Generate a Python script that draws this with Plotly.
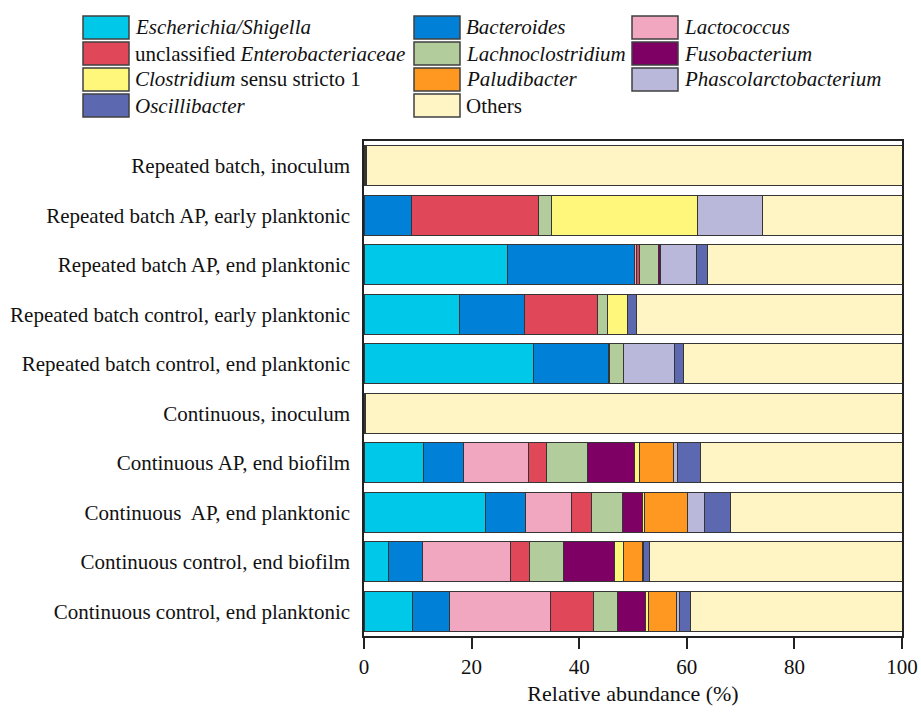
import plotly.graph_objects as go

# Samples, listed top to bottom
samples = [
    "Repeated batch, inoculum",
    "Repeated batch AP, early planktonic",
    "Repeated batch AP, end planktonic",
    "Repeated batch control, early planktonic",
    "Repeated batch control, end planktonic",
    "Continuous, inoculum",
    "Continuous AP, end biofilm",
    "Continuous\u00a0 AP, end planktonic",
    "Continuous control, end biofilm",
    "Continuous control, end planktonic",
]

# Relative abundance (%) of each genus per sample
escherichia = [0.1, 0.0, 26.6, 17.7, 31.5, 0.0, 11.1, 22.5, 4.5, 9.0]
bacteroides = [0.1, 8.9, 23.7, 12.2, 13.9, 0.1, 7.4, 7.5, 6.4, 6.8]
lactococcus = [0.0, 0.0, 0.3, 0.0, 0.0, 0.0, 12.0, 8.6, 16.3, 18.8]
unclassified_entero = [0.1, 23.6, 0.6, 13.5, 0.3, 0.0, 3.4, 3.7, 3.6, 8.1]
lachnoclostridium = [0.1, 2.4, 3.6, 1.9, 2.6, 0.1, 7.7, 5.8, 6.3, 4.4]
fusobacterium = [0.0, 0.0, 0.3, 0.0, 0.0, 0.0, 8.7, 3.6, 9.4, 5.2]
clostridium = [0.0, 27.1, 0.0, 3.6, 0.0, 0.0, 1.0, 0.4, 1.7, 0.5]
paludibacter = [0.0, 0.0, 0.0, 0.0, 0.0, 0.0, 6.2, 8.1, 3.5, 5.3]
phascolarcto = [0.0, 12.0, 6.7, 0.0, 9.5, 0.0, 0.7, 3.0, 0.3, 0.5]
oscillibacter = [0.0, 0.0, 2.0, 1.8, 1.5, 0.0, 4.3, 5.0, 1.1, 2.1]
others = [99.6, 26.0, 36.2, 49.3, 40.7, 99.8, 37.5, 31.8, 46.9, 39.3]

labels = [
    "<i>Escherichia/Shigella</i>",
    "<i>Bacteroides</i>",
    "<i>Lactococcus</i>",
    "unclassified <i>Enterobacteriaceae</i>",
    "<i>Lachnoclostridium</i>",
    "<i>Fusobacterium</i>",
    "<i>Clostridium</i> sensu stricto 1",
    "<i>Paludibacter</i>",
    "<i>Phascolarctobacterium</i>",
    "<i>Oscillibacter</i>",
    "Others",
]
series = [escherichia, bacteroides, lactococcus, unclassified_entero,
          lachnoclostridium, fusobacterium, clostridium, paludibacter,
          phascolarcto, oscillibacter, others]
colors = ["#00C8E8", "#0080D6", "#F2A7C0", "#E0485A", "#B2CD9B", "#7F0064",
          "#FFF67C", "#FF9820", "#B9B8DA", "#5C68B0", "#FFF5C4"]

FONT = "Liberation Serif"

fig = go.Figure()
for lab, vals, col in zip(labels, series, colors):
    fig.add_trace(go.Bar(
        y=samples, x=vals, orientation="h", name=lab,
        marker=dict(color=col, line=dict(color="#353535", width=1)),
        showlegend=False,
    ))

# Plot-area geometry in pixels (used for the hand-drawn legend)
W, H = 921, 716
L, R, T, B = 364, 19, 141, 80
PW, PH = W - L - R, H - T - B


def px_x(px):
    return (px - L) / PW


def px_y(py):
    return (H - B - py) / PH


shapes = []
annotations = []
col_x = [83, 414, 632]
row_y = [16, 42, 68, 94]
sw_w, sw_h = 46, 23
for i, (lab, col) in enumerate(zip(labels, colors)):
    r, c = divmod(i, 3)
    x0, y0 = col_x[c], row_y[r]
    shapes.append(dict(
        type="rect", xref="paper", yref="paper",
        x0=px_x(x0), x1=px_x(x0 + sw_w), y0=px_y(y0 + sw_h), y1=px_y(y0),
        fillcolor=col, line=dict(color="#404040", width=1.5), layer="above",
    ))
    annotations.append(dict(
        xref="paper", yref="paper", x=px_x(x0 + sw_w + 4), y=px_y(y0 + sw_h / 2),
        text=lab, showarrow=False, xanchor="left", yanchor="middle",
        font=dict(family=FONT, size=21, color="#111"),
    ))

fig.update_layout(
    template="none",
    barmode="stack",
    bargap=0.19,
    width=W, height=H,
    margin=dict(l=L, r=R, t=T, b=B, autoexpand=False),
    plot_bgcolor="white",
    paper_bgcolor="white",
    font=dict(family=FONT, size=21, color="#111"),
    shapes=shapes,
    annotations=annotations,
    xaxis=dict(
        range=[0, 100], tickvals=[0, 20, 40, 60, 80, 100],
        showline=True, linecolor="#222", linewidth=1.5, mirror=True,
        ticks="outside", ticklen=11, tickwidth=1.5, tickcolor="#222",
        showgrid=False, zeroline=False, automargin=False,
        tickfont=dict(family=FONT, size=21, color="#111"),
        title=dict(text="Relative abundance (%)", standoff=8,
                   font=dict(family=FONT, size=22, color="#111")),
    ),
    yaxis=dict(
        categoryorder="array", categoryarray=samples, autorange="reversed",
        showline=True, linecolor="#222", linewidth=1.5, mirror=True,
        ticks="", showgrid=False, ticklabelstandoff=8, automargin=False,
        tickfont=dict(family=FONT, size=21, color="#111"),
    ),
)

fig.write_html("out.html")
